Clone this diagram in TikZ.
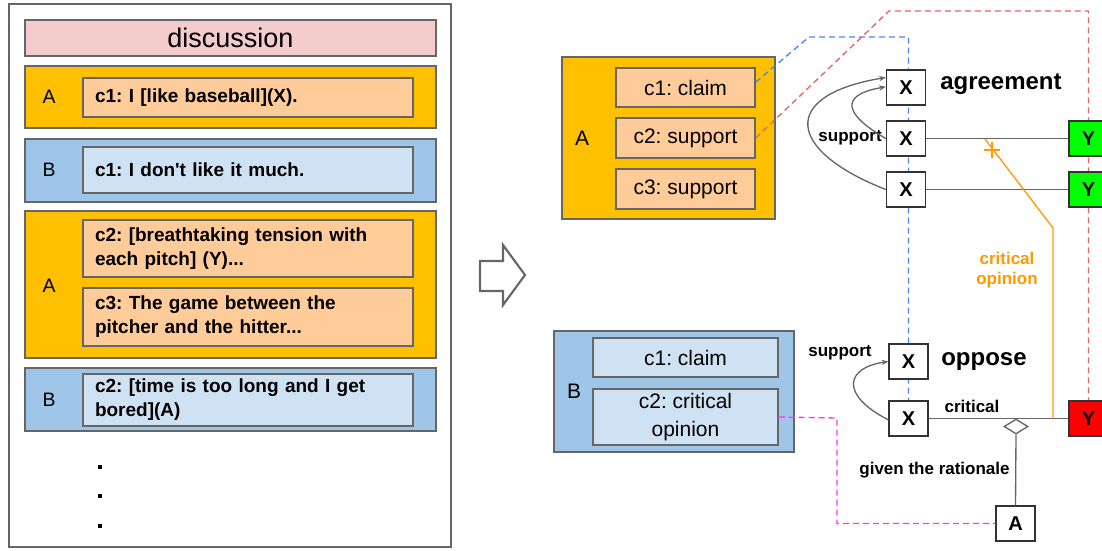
\documentclass[tikz,border=0pt]{standalone}
\usepackage{fontspec}
\setmainfont{Liberation Sans}[Ligatures=TeXOff]
\usetikzlibrary{arrows.meta,shapes.geometric}
\definecolor{gry}{HTML}{666666}
\definecolor{dk}{HTML}{333333}
\definecolor{yel}{HTML}{FFC000}
\definecolor{lor}{HTML}{FFCC99}
\definecolor{blu}{HTML}{9FC5E8}
\definecolor{lbl}{HTML}{CFE2F3}
\definecolor{pnk}{HTML}{F4CCCC}
\definecolor{grn}{HTML}{00FF00}
\definecolor{dblue}{HTML}{4A86E8}
\definecolor{dred}{HTML}{E06666}
\definecolor{mag}{HTML}{FF33FF}
\definecolor{org}{HTML}{FF9900}
\pgfdeclarelayer{bg}
\pgfdeclarelayer{edges}
\pgfsetlayers{bg,edges,main}
\frenchspacing
\tikzset{
 sz/.style 2 args={minimum width=#1*0.75pt, minimum height=#2*0.75pt},
 box/.style={rectangle, draw=gry, line width=1.1pt, inner sep=0pt},
 rowA/.style={box, fill=yel},
 rowB/.style={box, fill=blu},
 inA/.style={box, fill=lor},
 inB/.style={box, fill=lbl},
 ltxt/.style={font=\fontsize{14.25}{18}\selectfont\bfseries, align=left, text width=229.5pt, inner xsep=9pt},
 who/.style={font=\fontsize{14.6}{17}\selectfont},
 rtxt/.style={font=\fontsize{15.75}{21}\selectfont, align=center},
 xbox/.style={rectangle, draw=dk, line width=1.1pt, fill=white, inner sep=0pt, sz={39}{35}, font=\fontsize{15}{18}\selectfont\bfseries},
 big/.style={font=\fontsize{18}{21}\selectfont\bfseries},
 small/.style={font=\fontsize{12.75}{15}\selectfont\bfseries},
 rel/.style={draw=gry, line width=1pt},
 curv/.style={draw=gry, line width=1pt, -{Stealth[length=5pt,width=4pt]}},
 dsh/.style={line width=1pt, dash pattern=on 4.5pt off 3pt},
}
\begin{document}
\frenchspacing
\begin{tikzpicture}[x=0.75pt,y=-0.75pt]
\useasboundingbox (0,0) rectangle (1102,550);
\clip (0,0) rectangle (1102,550);
% ---------- left panel ----------
\node[box, line width=1.6pt, fill=white, sz={442}{543}] (frame) at (230,275.5) {};
\node[box, fill=pnk, sz={411}{36}, font=\fontsize{20.25}{24}\selectfont] (disc) at (230.5,38) {discussion};
\node[rowA, sz={411}{62}] (rowA1) at (230.5,97) {};
\node[inA, sz={330}{39}, ltxt] (a1) at (248,97.5) {c1: I [like baseball](X).};
\node[who] (labA1) at (49,97) {A};
\node[rowB, sz={411}{63}] (rowB1) at (230.5,170.5) {};
\node[inB, sz={330}{46}, ltxt] (b1) at (248,170) {c1: I don't like it much.};
\node[who] (labB1) at (49,170) {B};
\node[rowA, sz={411}{147}] (rowA2) at (230.5,284.5) {};
\node[inA, sz={330}{57}, ltxt] (a2) at (248,248.5) {c2: [breathtaking tension with\\each pitch] (Y)...};
\node[inA, sz={330}{58}, ltxt] (a3) at (248,317) {c3: The game between the\\pitcher and the hitter...};
\node[who] (labA2) at (49,286) {A};
\node[rowB, sz={411}{63}] (rowB2) at (230.5,399.5) {};
\node[inB, sz={330}{52}, ltxt] (b2) at (248,400) {c2: [time is too long and I get\\bored](A)};
\node[who] (labB2) at (49,400) {B};
\node[fill=black, inner sep=0pt, sz={3.5}{3.5}] (d1) at (100,467) {};
\node[fill=black, inner sep=0pt, sz={3.5}{3.5}] (d2) at (100,496) {};
\node[fill=black, inner sep=0pt, sz={3.5}{3.5}] (d3) at (100,526) {};
% ---------- block arrow ----------
\draw[draw=gry, line width=1.6pt, fill=white, line join=miter]
  (480,261) -- (503,261) -- (503,245) -- (525,275) -- (503,305) -- (503,291) -- (480,291) -- cycle;
% ---------- right groups ----------
\begin{pgfonlayer}{bg}
\node[rowA, sz={213}{162}] (grpA) at (668.5,138) {};
\node[inA, sz={139}{39}, rtxt] (rc1) at (685.5,87.5) {c1: claim};
\node[inA, sz={139}{40}, rtxt] (rc2) at (685.5,138) {c2: support};
\node[inA, sz={139}{40}, rtxt] (rc3) at (685.5,189) {c3: support};
\node[rtxt] (labA) at (582,138) {A};
\node[rowB, sz={240}{121}] (grpB) at (674,391.5) {};
\node[inB, sz={185}{39}, rtxt] (rb1) at (685.5,357.5) {c1: claim};
\node[inB, sz={185}{56}, rtxt] (rb2) at (685.5,417) {c2: critical\\opinion};
\node[rtxt] (labB) at (574,391) {B};
\end{pgfonlayer}
% ---------- X / Y nodes ----------
\node[xbox] (xa1) at (906,87.5) {X};
\node[xbox] (xa2) at (906,138.5) {X};
\node[xbox] (xa3) at (906,189.5) {X};
\node[big, anchor=west, inner sep=0pt] (agr) at (940,84) {agreement};
\node[xbox, fill=grn] (ya2) at (1088.5,138.5) {Y};
\node[xbox, fill=grn] (ya3) at (1088.5,189.5) {Y};
\node[small, anchor=east, inner sep=0pt] (sup1) at (882,138) {support};
\node[xbox] (xo1) at (908.5,361.5) {X};
\node[xbox] (xo2) at (908.5,418.5) {X};
\node[big, anchor=west, inner sep=0pt] (opp) at (941,362) {oppose};
\node[small] (sup2) at (840,353) {support};
\node[small] (crit) at (972,406) {critical};
\node[xbox, fill=red] (yo) at (1088.5,418.5) {Y};
\node[diamond, draw=gry, line width=1pt, fill=white, inner sep=0pt, sz={24}{15}] (dia) at (1016,426.5) {};
\node[xbox] (abox) at (1015.5,523.5) {A};
\node[small] (giv) at (934.5,470) {given the rationale};
\node[small, text=org, align=center, font=\fontsize{12.75}{15}\selectfont\bfseries] (copn) at (1007,270) {critical\\opinion};
% ---------- dashed connectors (under X/Y boxes) ----------
\begin{pgfonlayer}{edges}
\coordinate (bturn) at (809,37);
\coordinate (rturn) at (889,11);
\draw[dsh, dblue] ([yshift=4pt]rc1.east) -- (bturn) -| (xo2.north);
\draw[dsh, dred] (rc2.east) -- (rturn) -| (yo.north);
\end{pgfonlayer}
\coordinate (mturn) at (837,418);
\draw[dsh, mag] (rb2.east) -- (mturn) |- (abox.west);
% ---------- solid connectors ----------
\draw[rel] (xa2.east) -- (ya2.west);
\draw[rel] (xa3.east) -- (ya3.west);
\draw[rel] (xo2.east) -- (yo.west);
\draw[rel] (dia.south) -- (abox.north);
\draw[curv] (xa2.west) .. controls (845,115) and (838,95) .. ([yshift=0.5pt]xa1.west);
\draw[curv] (xa3.west) .. controls (785,150) and (780,95) .. ([yshift=7.5pt]xa1.west);
\draw[curv] ([yshift=-1pt]xo2.west) .. controls (840,395) and (845,368) .. (xo1.west);
% ---------- orange relation ----------
\coordinate (os) at (985,139);
\coordinate (ob) at (1053,228);
\coordinate (oe) at (1053,418.5);
\draw[org, line width=1pt] (os) -- (ob) -- (oe);
\coordinate (mk) at (992,150);
\draw[org, line width=1pt] ([xshift=-6pt]mk) -- ([xshift=6pt]mk) ([yshift=-6pt]mk) -- ([yshift=6pt]mk);
\end{tikzpicture}
\end{document}
